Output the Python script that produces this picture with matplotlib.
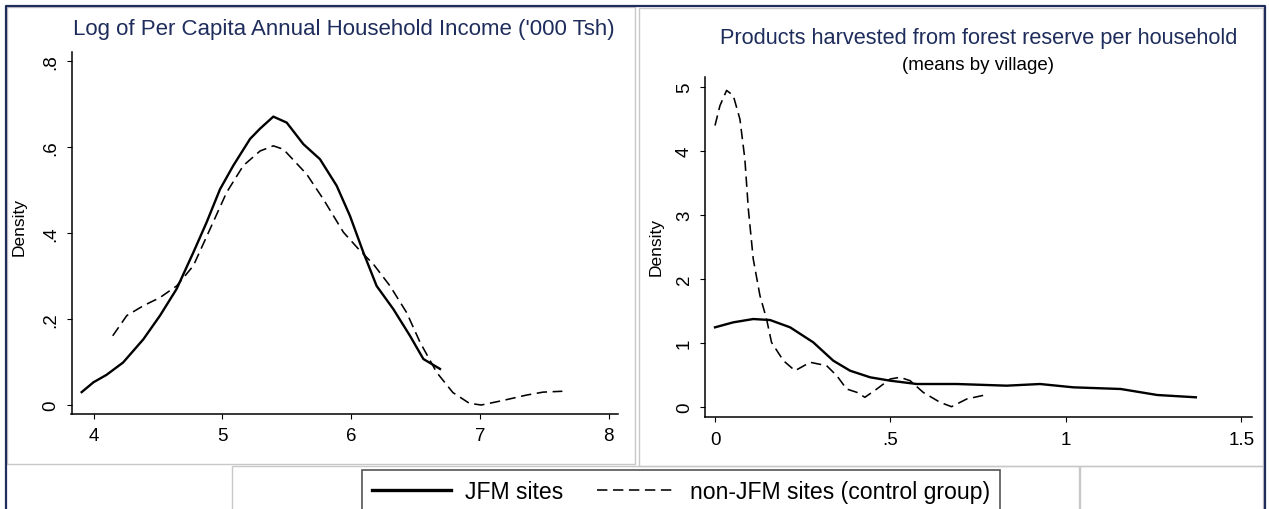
import matplotlib
matplotlib.use('Agg')
import matplotlib.pyplot as plt
from matplotlib.patches import Rectangle
from matplotlib.lines import Line2D

plt.rcParams['font.family'] = ['Liberation Sans', 'DejaVu Sans']

# kernel density of log per capita income ('000 Tsh)
inc_jfm_x = [3.908, 4.0, 4.10, 4.23, 4.387, 4.516, 4.645, 4.775, 4.878, 4.982, 5.085,
             5.215, 5.293, 5.396, 5.50, 5.629, 5.758, 5.888, 5.991, 6.095, 6.198,
             6.328, 6.457, 6.561, 6.69]
inc_jfm_y = [0.030, 0.053, 0.070, 0.099, 0.153, 0.208, 0.270, 0.355, 0.425, 0.502, 0.557,
             0.619, 0.643, 0.671, 0.657, 0.607, 0.572, 0.510, 0.440, 0.355, 0.277,
             0.223, 0.161, 0.107, 0.084]
inc_ctrl_x = [4.149, 4.258, 4.387, 4.516, 4.645, 4.775, 4.904, 5.034, 5.163, 5.293, 5.396,
              5.474, 5.655, 5.784, 5.94, 6.069, 6.172, 6.302, 6.431, 6.535, 6.664,
              6.79, 6.918, 7.01, 7.17, 7.36, 7.49, 7.64]
inc_ctrl_y = [0.161, 0.208, 0.231, 0.250, 0.277, 0.324, 0.409, 0.495, 0.557, 0.591, 0.603,
              0.595, 0.537, 0.479, 0.402, 0.359, 0.328, 0.277, 0.215, 0.146, 0.076,
              0.029, 0.004, 0.0, 0.010, 0.023, 0.030, 0.032]

# kernel density of products harvested per household (village means)
prod_jfm_x = [0.0, 0.052, 0.109, 0.157, 0.214, 0.28, 0.337, 0.385, 0.442, 0.499, 0.575,
              0.689, 0.831, 0.926, 1.021, 1.156, 1.26, 1.37]
prod_jfm_y = [1.242, 1.32, 1.372, 1.356, 1.242, 1.007, 0.72, 0.563, 0.46, 0.407, 0.355,
              0.355, 0.329, 0.355, 0.303, 0.277, 0.183, 0.147]
prod_ctrl_x = [0.0, 0.014, 0.033, 0.052, 0.071, 0.085, 0.095, 0.109, 0.128, 0.147, 0.161,
               0.195, 0.228, 0.271, 0.318, 0.347, 0.375, 0.404, 0.427, 0.461, 0.499,
               0.527, 0.556, 0.593, 0.641, 0.674, 0.717, 0.769]
prod_ctrl_y = [4.40, 4.71, 4.95, 4.87, 4.50, 3.88, 3.09, 2.31, 1.74, 1.37, 1.007,
               0.72, 0.563, 0.695, 0.642, 0.485, 0.277, 0.225, 0.147, 0.277, 0.433,
               0.46, 0.407, 0.225, 0.069, 0.0, 0.12, 0.183]

inc_xticks = [4, 5, 6, 7, 8]
inc_xlabels = ['4', '5', '6', '7', '8']
inc_yticks = [0, 0.2, 0.4, 0.6, 0.8]
inc_ylabels = ['0', '.2', '.4', '.6', '.8']
prod_xticks = [0, 0.5, 1, 1.5]
prod_xlabels = ['0', '.5', '1', '1.5']
prod_yticks = [0, 1, 2, 3, 4, 5]
prod_ylabels = ['0', '1', '2', '3', '4', '5']

W, H = 1269, 510
fig = plt.figure(figsize=(W / 100, H / 100), dpi=100)
navy = '#1e2d5c'
frame_grey = '#c8c8c8'


def px(x, y):
    # pixel position (from top left) -> figure fraction
    return x / W, 1 - y / H


def box(x0, y0, x1, y1, color, lw=1.0):
    fx, fy = px(x0, y1)
    fig.add_artist(Rectangle((fx, fy), (x1 - x0) / W, (y1 - y0) / H, transform=fig.transFigure,
                             fill=False, edgecolor=color, linewidth=lw))


# panel frames
box(7, 8, 635, 465, frame_grey)
box(639, 9, 1263, 467, frame_grey)
box(232, 467, 1080, 520, frame_grey)
box(1079, 467, 1263, 520, frame_grey)
# outer navy border
fig.add_artist(Line2D([6 / W, 6 / W, 1265 / W, 1265 / W], [0, 1 - 7 / H, 1 - 7 / H, 0],
                      transform=fig.transFigure, color=navy, linewidth=1.6))

solid_kw = dict(color='black', linewidth=1.7, linestyle='-')
dash_kw = dict(color='black', linewidth=1.15, linestyle=(0, (6.5, 3.5)))


def style_axes(ax, xt, xl, yt, yl):
    for side in ['top', 'right']:
        ax.spines[side].set_visible(False)
    for side in ['left', 'bottom']:
        ax.spines[side].set_linewidth(1.1)
    ax.set_xticks(xt)
    ax.set_xticklabels(xl)
    ax.set_yticks(yt)
    ax.set_yticklabels(yl, rotation=90, va='center')
    ax.tick_params(direction='out', length=3.6, width=0.8, labelsize=13.5, pad=6)
    ax.tick_params(axis='y', pad=5)
    ax.set_ylabel('Density', fontsize=12.5)


ax1 = fig.add_axes([71.5 / W, 1 - 415 / H, 546.5 / W, 362.3 / H])
l1, = ax1.plot(inc_jfm_x, inc_jfm_y, label='JFM sites', **solid_kw)
l2, = ax1.plot(inc_ctrl_x, inc_ctrl_y, label='non-JFM sites (control group)', **dash_kw)
ax1.set_xlim(3.829, 8.072)
ax1.set_ylim(-0.0209, 0.822)
style_axes(ax1, inc_xticks, inc_xlabels, inc_yticks, inc_ylabels)
ax1.yaxis.set_label_coords(-0.083, 0.52)

ax2 = fig.add_axes([705 / W, 1 - 418.3 / H, 547 / W, 340 / H])
ax2.plot(prod_jfm_x, prod_jfm_y, **solid_kw)
ax2.plot(prod_ctrl_x, prod_ctrl_y, **dash_kw)
ax2.set_xlim(-0.0285, 1.53)
ax2.set_ylim(-0.166, 5.155)
style_axes(ax2, prod_xticks, prod_xlabels, prod_yticks, prod_ylabels)
ax2.yaxis.set_label_coords(-0.076, 0.505)

fig.text(*px(344, 29.5), "Log of Per Capita Annual Household Income ('000 Tsh)",
         ha='center', va='center', fontsize=16, color=navy)
fig.text(*px(979, 38.5), 'Products harvested from forest reserve per household',
         ha='center', va='center', fontsize=15.7, color=navy)
fig.text(*px(978.5, 66), '(means by village)', ha='center', va='center', fontsize=13.5,
         color='black')

leg = fig.legend(handles=[l1, l2], loc='upper left', bbox_to_anchor=px(362, 470.7),
                 ncol=2, fontsize=16.6, frameon=True, fancybox=False, edgecolor='#555555',
                 framealpha=1, borderaxespad=0, borderpad=0.45, handlelength=3.4,
                 handletextpad=0.6, columnspacing=1.5)
leg.get_frame().set_linewidth(1.2)
leg.legend_handles[0].set_linewidth(2.4)

plt.savefig('out.png', dpi=100)
